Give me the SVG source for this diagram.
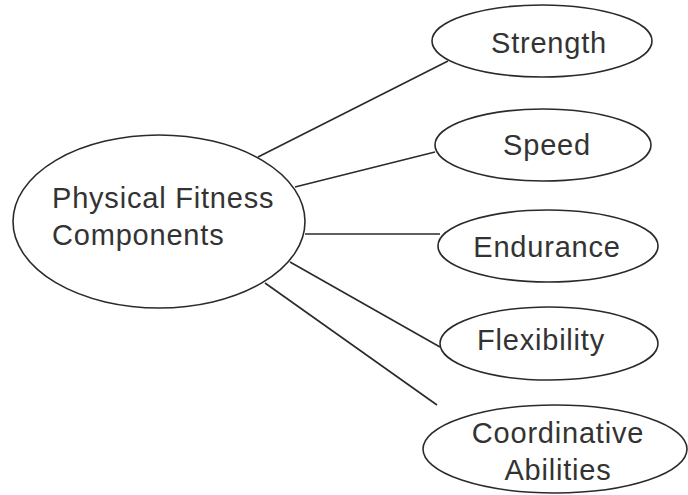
<svg xmlns="http://www.w3.org/2000/svg" width="688" height="495" viewBox="0 0 688 495">
<style>
.node ellipse{fill:#fff;stroke:#2a2a2a;stroke-width:1.6}
.node text{font-family:"Liberation Sans",Arial,sans-serif;font-size:29px;fill:#333;letter-spacing:0.8px}
#connectors line{stroke:#2a2a2a;stroke-width:1.6}
</style>
<rect width="688" height="495" fill="#fff"/>
<g id="connectors">
<line x1="258" y1="157" x2="448" y2="61"/>
<line x1="295" y1="187" x2="435" y2="152"/>
<line x1="305" y1="234" x2="440" y2="234"/>
<line x1="290" y1="262" x2="440" y2="347"/>
<line x1="265" y1="283" x2="437" y2="405"/>
</g>
<g id="physical-fitness" class="node">
<ellipse cx="159" cy="221.5" rx="146" ry="86.5"/>
<text x="52" y="208">Physical Fitness</text>
<text x="52" y="245">Components</text>
</g>
<g id="strength" class="node">
<ellipse cx="542" cy="41" rx="110" ry="36"/>
<text x="549" y="53" text-anchor="middle">Strength</text>
</g>
<g id="speed" class="node">
<ellipse cx="543" cy="145" rx="108" ry="36"/>
<text x="547" y="155" text-anchor="middle">Speed</text>
</g>
<g id="endurance" class="node">
<ellipse cx="548" cy="246" rx="110" ry="36"/>
<text x="547" y="257" text-anchor="middle">Endurance</text>
</g>
<g id="flexibility" class="node">
<ellipse cx="549" cy="343.5" rx="109" ry="36.5"/>
<text x="541" y="350" text-anchor="middle">Flexibility</text>
</g>
<g id="coordinative" class="node">
<ellipse cx="555" cy="449" rx="132" ry="44"/>
<text x="558" y="443" text-anchor="middle">Coordinative</text>
<text x="558" y="480" text-anchor="middle">Abilities</text>
</g>
</svg>
